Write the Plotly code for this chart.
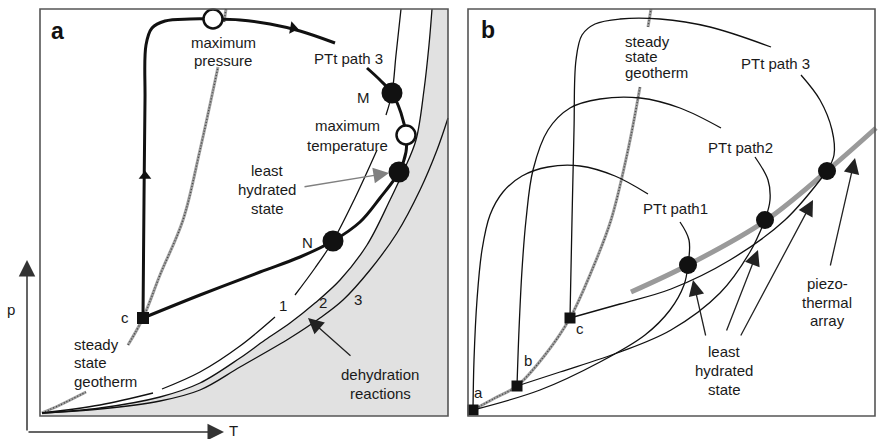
import plotly.graph_objects as go

# ---------------- Panel a data (T, p schematic coordinates) ----------------
geo_a_x = [42, 60, 86, None, 128, 143, 160, 183, 200, 218, None, 224, 226]
geo_a_y = [413, 405, 392, None, 345, 318, 275, 220, 150, 67, None, 22, 9]

r1_x = [42, 100, 153, None, 162, 200, 240, 275, None, 295, 315, 333, 355, 377, None, 386, 392, 396, 401]
r1_y = [413, 405, 393, None, 389, 372, 346, 317, None, 295, 268, 241, 198, 150, None, 115, 93, 55, 9]
r2_x = [42, 100, 160, 200, 240, 265, 290, 315, 340, 367, 390, 404, 416, 424, 429, 432]
r2_y = [413, 408, 397, 383, 358, 340, 323, 303, 280, 245, 200, 170, 140, 90, 45, 9]
r3_x = [42, 100, 160, 200, 240, 290, 320, 343, 370, 397, 420, 437, 448]
r3_y = [413, 409, 401, 390, 367, 338, 318, 300, 270, 233, 190, 150, 118]

pt3a_x = [143, 144, 145, 146, 152, 165, 190, 213, 240, 270, 300, 335, None,
          367, 380, 392, 401, 406, 406, 399, 380, 360, 333, 300, 260, 200, 143]
pt3a_y = [318, 200, 100, 45, 28, 21, 19, 19, 20, 24, 31, 43, None,
          68, 80, 93, 113, 135, 152, 172, 198, 222, 241, 257, 272, 295, 318]

pts_a_filled_x = [392, 399, 333]
pts_a_filled_y = [93, 172, 241]
pts_a_open_x = [213, 406]
pts_a_open_y = [19, 135]
sq_a_x = [143]
sq_a_y = [318]
dir_a_x = [145, 293]
dir_a_y = [176, 28]
dir_a_ang = [0, 100]

# ---------------- Panel b data ----------------
geo_b_x = [473, 495, 517, 545, 570, 592, 611, 628, 640, None, 648, 651]
geo_b_y = [410, 398, 386, 355, 318, 270, 220, 150, 87, None, 27, 9]

p1_x = [473, 474, 477, 482, 490, 503, 522, 548, 580, 615, 648, None, 680, 689, 688]
p1_y = [410, 360, 300, 250, 215, 192, 176, 167, 166, 176, 194, None, 222, 240, 265]
p2_x = [517, 519, 522, 526, 533, 548, 570, 600, 640, 680, 721, None, 755, 768, 770, 765]
p2_y = [386, 330, 270, 220, 170, 130, 108, 99, 98, 108, 128, None, 157, 180, 200, 220]
p3_x = [570, 572, 574, 576, 582, 595, 620, 660, 710, 771, None, 801, 820, 832, 834, 827]
p3_y = [318, 220, 130, 60, 35, 24, 19, 19, 27, 47, None, 75, 100, 130, 155, 171]

ret1_x = [688, 684, 670, 645, 600, 540, 473]
ret1_y = [265, 285, 310, 335, 362, 390, 410]
ret2_x = [517, 560, 620, 671, 720, 750, 765]
ret2_y = [386, 372, 352, 330, 293, 252, 220]
ret3_x = [570, 620, 671, 730, 785, 827]
ret3_y = [318, 304, 289, 260, 220, 171]

array_x = [631, 688, 765, 827, 876]
array_y = [292, 265, 221, 171, 128]

pts_b_x = [688, 765, 827]
pts_b_y = [265, 220, 171]
sq_b_x = [473, 517, 570]
sq_b_y = [410, 386, 318]

# ---------------- Labels ----------------
labels = [
    ("maximum", 223, 42), ("pressure", 223, 60),
    ("PTt path 3", 348, 58), ("M", 363, 97),
    ("maximum", 347, 125), ("temperature", 347, 145),
    ("least", 267, 170), ("hydrated", 267, 189), ("state", 267, 208),
    ("N", 307, 242), ("c", 125, 317),
    ("1", 283, 305), ("2", 323, 302), ("3", 358, 299),
    ("dehydration", 380, 374), ("reactions", 380, 393),
    ("p", 11, 309), ("T", 233, 430),
    ("PTt path 3", 775, 63), ("PTt path2", 740, 147), ("PTt path1", 675, 208),
    ("c", 580, 328), ("b", 528, 360), ("a", 478, 392),
    ("least", 724, 351), ("hydrated", 724, 370), ("state", 724, 389),
    ("piezo-", 827, 283), ("thermal", 827, 302), ("array", 827, 320),
]
left_labels = [
    ("steady", 72, 344), ("state", 72, 362), ("geotherm", 72, 381),
    ("steady", 623, 41), ("state", 623, 56), ("geotherm", 623, 72),
]
panel_labels = [("a", 57, 31), ("b", 488, 30)]

# arrows: (tail_x, tail_y, tip_x, tip_y, color)
arrows = [
    (303, 187, 389, 173, "#808080"),
    (352, 357, 308, 318, "#222222"),
    (706, 337, 693, 280, "#222222"),
    (726, 332, 758, 250, "#222222"),
    (740, 337, 813, 200, "#222222"),
    (830, 267, 855, 158, "#222222"),
]
axis_arrows = [(27, 432, 27, 260), (27, 432, 224, 432)]

# frames of the two panels
frame_a = (40, 9, 448, 416)
frame_b = (468, 9, 875, 416)

FONT = "Liberation Sans, Arial, Helvetica, sans-serif"

fig = go.Figure()


def add_line(x, y, w, color="#111111", dash=None, shape="spline"):
    fig.add_trace(go.Scatter(x=x, y=y, mode="lines", hoverinfo="skip", showlegend=False,
                             line=dict(color=color, width=w, shape=shape, smoothing=1.0, dash=dash)))


def bezier_path(xs, ys):
    pts = list(zip(xs, ys))
    n = len(pts)
    s = "M %.2f,%.2f" % pts[0]
    for i in range(n - 1):
        p0 = pts[max(i - 1, 0)]
        p1 = pts[i]
        p2 = pts[i + 1]
        p3 = pts[min(i + 2, n - 1)]
        c1 = (p1[0] + (p2[0] - p0[0]) / 6.0, p1[1] + (p2[1] - p0[1]) / 6.0)
        c2 = (p2[0] - (p3[0] - p1[0]) / 6.0, p2[1] - (p3[1] - p1[1]) / 6.0)
        s += " C %.2f,%.2f %.2f,%.2f %.2f,%.2f" % (c1[0], c1[1], c2[0], c2[1], p2[0], p2[1])
    return s


# gray dehydrated field (right of reaction 2)
fill_path = bezier_path(r2_x, r2_y)
fill_path += " L %d,%d L %d,%d L %d,%d Z" % (frame_a[2], frame_a[1], frame_a[2], frame_a[3], r2_x[0], frame_a[3])
fig.add_shape(type="path", path=fill_path, xref="x", yref="y", fillcolor="#e1e1e1",
              line=dict(width=0), layer="below")

# frames
fig.add_shape(type="rect", x0=frame_a[0], y0=frame_a[1], x1=frame_a[2], y1=frame_a[3],
              line=dict(color="#555555", width=1.6))
fig.add_shape(type="rect", x0=frame_b[0], y0=frame_b[1], x1=frame_b[2], y1=frame_b[3],
              line=dict(color="#555555", width=1.6))

# panel a
add_line(geo_a_x, geo_a_y, 3.0, color="#a0a0a0")
add_line(geo_a_x, geo_a_y, 1.4, color="#444444", dash="1px,2px")
add_line(r1_x, r1_y, 1.3)
add_line(r2_x, r2_y, 1.3)
add_line(r3_x, r3_y, 1.3)
add_line(pt3a_x, pt3a_y, 3.0)

# panel b
add_line(array_x, array_y, 5, color="#9a9a9a")
add_line(geo_b_x, geo_b_y, 3.0, color="#a0a0a0")
add_line(geo_b_x, geo_b_y, 1.4, color="#444444", dash="1px,2px")
for xs, ys in [(p1_x, p1_y), (p2_x, p2_y), (p3_x, p3_y), (ret1_x, ret1_y), (ret2_x, ret2_y), (ret3_x, ret3_y)]:
    add_line(xs, ys, 1.3)

# markers
fig.add_trace(go.Scatter(x=pts_a_filled_x, y=pts_a_filled_y, mode="markers", hoverinfo="skip", showlegend=False,
                         marker=dict(symbol="circle", size=21, color="#111111")))
fig.add_trace(go.Scatter(x=pts_a_open_x, y=pts_a_open_y, mode="markers", hoverinfo="skip", showlegend=False,
                         marker=dict(symbol="circle", size=19, color="white", line=dict(color="#111111", width=2.5))))
fig.add_trace(go.Scatter(x=sq_a_x, y=sq_a_y, mode="markers", hoverinfo="skip", showlegend=False,
                         marker=dict(symbol="square", size=12, color="#111111")))
fig.add_trace(go.Scatter(x=dir_a_x, y=dir_a_y, mode="markers", hoverinfo="skip", showlegend=False,
                         marker=dict(symbol="triangle-up", size=11, angle=dir_a_ang, color="#111111")))
fig.add_trace(go.Scatter(x=pts_b_x, y=pts_b_y, mode="markers", hoverinfo="skip", showlegend=False,
                         marker=dict(symbol="circle", size=18, color="#111111")))
fig.add_trace(go.Scatter(x=sq_b_x, y=sq_b_y, mode="markers", hoverinfo="skip", showlegend=False,
                         marker=dict(symbol="square", size=11, color="#111111")))

annotations = []
for t, x, y in labels:
    annotations.append(dict(text=t, x=x, y=y, xref="x", yref="y", showarrow=False,
                            xanchor="center", yanchor="middle",
                            font=dict(family=FONT, size=15, color="#1a1a1a")))
for t, x, y in left_labels:
    annotations.append(dict(text=t, x=x, y=y, xref="x", yref="y", showarrow=False,
                            xanchor="left", yanchor="middle",
                            font=dict(family=FONT, size=15, color="#1a1a1a")))
for t, x, y in panel_labels:
    annotations.append(dict(text="<b>%s</b>" % t, x=x, y=y, xref="x", yref="y", showarrow=False,
                            xanchor="center", yanchor="middle",
                            font=dict(family=FONT, size=23, color="#111111")))
for tx, ty, hx, hy, col in arrows:
    annotations.append(dict(text="", x=hx, y=hy, ax=tx, ay=ty, xref="x", yref="y", axref="x", ayref="y",
                            showarrow=True, arrowhead=2, arrowsize=2.4, arrowwidth=1.3,
                            arrowcolor=col, standoff=0, startstandoff=0))
for tx, ty, hx, hy in axis_arrows:
    annotations.append(dict(text="", x=hx, y=hy, ax=tx, ay=ty, xref="x", yref="y", axref="x", ayref="y",
                            showarrow=True, arrowhead=2, arrowsize=2.2, arrowwidth=1.5,
                            arrowcolor="#333333", standoff=0, startstandoff=0))

fig.update_layout(
    width=878, height=439, margin=dict(l=0, r=0, t=0, b=0),
    paper_bgcolor="white", plot_bgcolor="white",
    xaxis=dict(range=[0, 878], visible=False, fixedrange=True),
    yaxis=dict(range=[439, 0], visible=False, fixedrange=True),
    annotations=annotations, showlegend=False,
)

fig.write_html("out.html", config={"displayModeBar": False},
               post_script="document.body.style.margin='0px';document.body.style.overflow='hidden';")
